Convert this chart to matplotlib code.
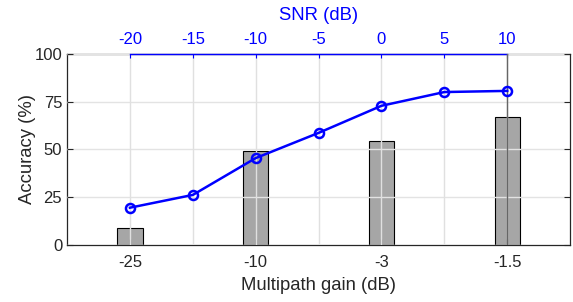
import matplotlib.pyplot as plt

plt.rcParams['font.family'] = ['Liberation Sans', 'DejaVu Sans']
plt.rcParams['axes.unicode_minus'] = False

# bars: accuracy vs multipath gain
gain_labels = ['-25', '-10', '-3', '-1.5']
gain_acc = [9, 49.2, 54.5, 67]

# line: accuracy vs SNR
snr = [-20, -15, -10, -5, 0, 5, 10]
snr_acc = [19.5, 26.2, 45.5, 58.7, 72.9, 80.1, 80.7]

fig = plt.figure(figsize=(5.73, 3.02), dpi=100)
ax = fig.add_axes([0.117, 0.189, 0.878, 0.632])

pos = list(range(1, len(gain_labels) + 1))
ax.bar(pos, gain_acc, width=0.2, color='#a6a6a6', edgecolor='black', linewidth=0.8, zorder=1)
ax.set_xlim(0.5, 4.5)
ax.set_ylim(0, 100)
ax.set_xticks(pos)
ax.set_xticklabels(gain_labels)
ax.set_yticks([0, 25, 50, 75, 100])
ax.set_axisbelow(False)
ax.yaxis.grid(True, color='#e3e3e3', linewidth=1)
ax.tick_params(direction='in', length=4, labelsize=12, right=True, width=0.8, colors='#262626')
ax.tick_params(axis='x', pad=7)
ax.set_xlabel('Multipath gain (dB)', fontsize=13.3, labelpad=5, color='#262626')
ax.set_ylabel('Accuracy (%)', fontsize=13.3, labelpad=-1, color='#262626')
for s in ax.spines.values():
    s.set_linewidth(0.9)
    s.set_color('#262626')

# top axis in SNR units, position p -> -20 + 10*(p-1)
ax2 = ax.twiny()
ax2.set_xlim(-25, 15)
ax2.set_xticks(snr)
ax2.xaxis.grid(True, color='#e0e0e0', linewidth=1)
ax2.plot(snr, snr_acc, color='#0000ff', linewidth=1.8, marker='o', markersize=6.5,
         markerfacecolor='none', markeredgewidth=1.8, zorder=5)
ax2.axvline(10, color='#666666', linewidth=1.0, zorder=3)
ax2.spines['top'].set_bounds(-20, 10)
ax2.spines['top'].set_color('#0000ff')
ax2.spines['top'].set_linewidth(1.0)
for side in ['left', 'right', 'bottom']:
    ax2.spines[side].set_visible(False)
ax2.tick_params(axis='x', direction='in', length=3, colors='#0000ff', labelsize=12, pad=5)
ax2.set_xlabel('SNR (dB)', fontsize=13.3, color='#0000ff', labelpad=9)

fig.savefig('out.png', dpi=100)
